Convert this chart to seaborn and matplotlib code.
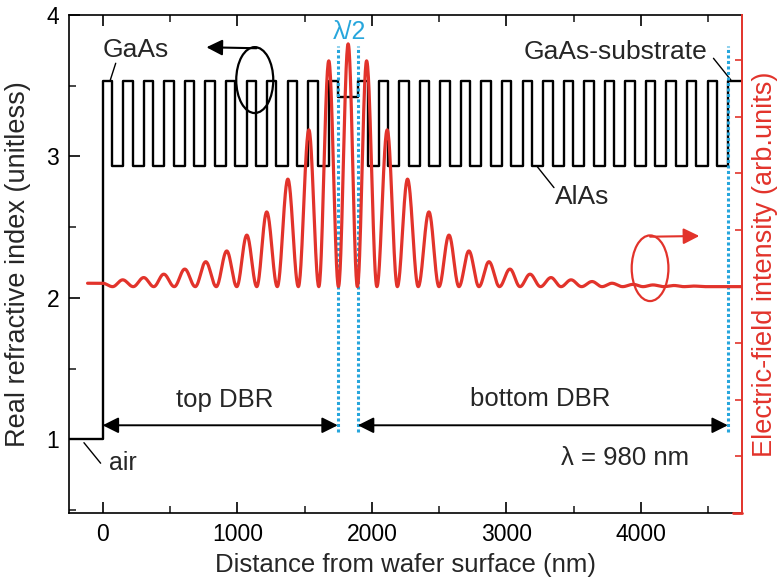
import numpy as np
import pandas as pd
import matplotlib
matplotlib.use("Agg")
import matplotlib.pyplot as plt
import seaborn as sns
from matplotlib.patches import Ellipse
from matplotlib.ticker import MultipleLocator

# ---------------- data ----------------
# refractive indices of the layers
n_air = 1.0
n_gaas = 3.536
n_alas = 2.935
n_cavity = 3.42
# layer thicknesses (nm)
d_gaas = 69.6
d_alas = 83.1
d_cavity = 149.0
top_pairs = 11        # GaAs/AlAs pairs above the cavity (+ one closing GaAs)
bottom_pairs = 18     # GaAs/AlAs pairs below the cavity

# electric-field intensity peaks (position in nm, intensity in arb. units)
peak_x = [149, 305, 454, 610, 766, 922, 1071, 1219, 1376, 1532, 1680, 1824,
          1961, 2114, 2265, 2424, 2573, 2721, 2870, 3026, 3175, 3331, 3480,
          3636, 3784, 3941, 4089, 4245, 4394]
peak_u = [4.12, 4.16, 4.22, 4.31, 4.44, 4.63, 4.91, 5.32, 5.90, 6.77, 7.99, 8.29,
          7.99, 6.77, 5.90, 5.32, 4.91, 4.63, 4.44, 4.31, 4.22, 4.16, 4.12,
          4.09, 4.06, 4.04, 4.03, 4.02, 4.01]
field_min = 4.0        # level of the field minima
field_air = 4.06       # field level in air
field_start = -112     # start of the field curve (nm)
field_first_min = 74   # first minimum inside the DBR (nm)

# marker lines (nm)
dbr_top_end = 1747
dbr_bottom_start = 1896
substrate_start = 4645

x_min, x_max = -250, 4750
RED = "#e2332b"
BLUE = "#27a6dc"

# ---------------- build step profile ----------------
bounds = [x_min, 0.0]
levels = [n_air]
pos = 0.0
for i in range(top_pairs):
    for d, n in ((d_gaas, n_gaas), (d_alas, n_alas)):
        levels.append(n); pos += d; bounds.append(pos)
levels.append(n_gaas); pos += d_gaas; bounds.append(pos)
levels.append(n_cavity); pos += d_cavity; bounds.append(pos)
for i in range(bottom_pairs):
    for d, n in ((d_gaas, n_gaas), (d_alas, n_alas)):
        levels.append(n); pos += d; bounds.append(pos)
levels.append(n_gaas); bounds.append(x_max)
levels.append(n_gaas)
profile = pd.DataFrame({"x": bounds, "n": levels})

# ---------------- build field curve from extrema ----------------
ext_x = [field_start, 0.0, field_first_min]
ext_u = [field_air, field_air, field_min]
for i, (px, pu) in enumerate(zip(peak_x, peak_u)):
    ext_x.append(px); ext_u.append(pu)
    if i + 1 < len(peak_x):
        ext_x.append(0.5 * (px + peak_x[i + 1])); ext_u.append(field_min)
ext_x.append(peak_x[-1] + 75); ext_u.append(field_min)
ext_x.append(x_max); ext_u.append(field_min)

fx, fu = [], []
for i in range(len(ext_x) - 1):
    x0, x1, u0, u1 = ext_x[i], ext_x[i + 1], ext_u[i], ext_u[i + 1]
    t = np.linspace(0, 1, 30)
    s = 0.5 - 0.5 * np.cos(np.pi * t)
    fx.extend(x0 + (x1 - x0) * t)
    fu.extend(u0 + (u1 - u0) * s)
field = pd.DataFrame({"x": fx, "u": fu})

# ---------------- plotting ----------------
sns.set_theme(style="ticks")
plt.rcParams["font.family"] = ["Liberation Sans", "DejaVu Sans"]

fig = plt.figure(figsize=(7.83, 5.82), dpi=100)
ax = fig.add_axes([69 / 783, 1 - 513 / 582, (742 - 69) / 783, (513 - 15) / 582])
ax2 = ax.twinx()

sns.lineplot(data=profile, x="x", y="n", ax=ax, color="black", lw=1.7,
             drawstyle="steps-post", estimator=None, sort=False)

for xv in (dbr_top_end, dbr_bottom_start, substrate_start):
    ax.plot([xv, xv], [1.053, 3.78], ls=(0, (1.0, 0.8)), color=BLUE, lw=2.2, zorder=3)

sns.lineplot(data=field, x="x", y="u", ax=ax2, color=RED, lw=2.3,
             estimator=None, sort=False)

ax.set_xlim(x_min, x_max)
ax.set_ylim(0.48, 4.0)
ax2.set_ylim(0, 8.8)

ax.set_xticks([0, 1000, 2000, 3000, 4000])
ax.xaxis.set_minor_locator(MultipleLocator(500))
ax.set_yticks([1, 2, 3, 4])
ax.yaxis.set_minor_locator(MultipleLocator(0.5))
ax.tick_params(axis="both", which="major", direction="in", top=True, right=False,
               length=8, width=1.2, labelsize=16.5, pad=7, colors="black")
ax.tick_params(axis="both", which="minor", direction="in", top=True, right=False,
               length=5, width=1.2)
ax.spines["right"].set_visible(False)
for s in ("left", "bottom", "top"):
    ax.spines[s].set_linewidth(1.2)
    ax.spines[s].set_color("black")

ax2.set_yticks(range(1, 9))
ax2.tick_params(axis="y", which="both", direction="in", length=5, width=1.2,
                color=RED, labelright=False)
for s in ("left", "bottom", "top"):
    ax2.spines[s].set_visible(False)
ax2.spines["right"].set_color(RED)
ax2.spines["right"].set_linewidth(1.4)

ax.set_xlabel("Distance from wafer surface (nm)", fontsize=18.5, labelpad=5)
ax.set_ylabel("Real refractive index (unitless)", fontsize=19.5, labelpad=11)
ax2.set_ylabel("Electric-field intensity (arb.units)", fontsize=19.5,
               color=RED, labelpad=7)

# annotations
ts = 19
ax.text(-2, 3.753, "GaAs", fontsize=ts, ha="left", va="center")
ax.plot([97, 57], [3.659, 3.541], color="black", lw=1.0)
ax.text(3130, 3.741, "GaAs-substrate", fontsize=ts, ha="left", va="center")
ax.plot([4538, 4667], [3.694, 3.541], color="black", lw=1.0)
ax.text(3360, 2.714, "AlAs", fontsize=ts, ha="left", va="center")
ax.plot([3229, 3353], [2.928, 2.780], color="black", lw=1.0)
ax.text(45, 0.834, "air", fontsize=18, ha="left", va="center")
ax.plot([-139, -15], [0.977, 0.832], color="black", lw=1.0)
ax.text(1833, 3.88, "λ/2", fontsize=18, ha="center", va="center", color=BLUE)
ax.text(907, 1.279, "top DBR", fontsize=18.5, ha="center", va="center")
ax.text(3249, 1.286, "bottom DBR", fontsize=18.5, ha="center", va="center")
ax.text(3881, 0.869, "λ = 980 nm", fontsize=18.5, ha="center", va="center")

arrow_kw = dict(arrowstyle="<|-|>", color="black", lw=1.4, mutation_scale=24,
                shrinkA=0, shrinkB=0)
ax.annotate("", xy=(0, 1.10), xytext=(dbr_top_end, 1.10), arrowprops=arrow_kw)
ax.annotate("", xy=(dbr_bottom_start, 1.10), xytext=(substrate_start, 1.10),
            arrowprops=arrow_kw)

# black ellipse + arrow (left axis)
ax.add_patch(Ellipse((1130, 3.54), 275, 0.466, fill=False, ec="black", lw=1.6, zorder=4))
ax.annotate("", xy=(771, 3.772), xytext=(1143, 3.765),
            arrowprops=dict(arrowstyle="-|>", color="black", lw=1.5,
                            mutation_scale=24, shrinkA=0, shrinkB=0))
# red ellipse + arrow (right axis)
ax.add_patch(Ellipse((4067, 2.21), 273, 0.464, fill=False, ec=RED, lw=1.6, zorder=4))
ax.annotate("", xy=(4433, 2.438), xytext=(4067, 2.433),
            arrowprops=dict(arrowstyle="-|>", color=RED, lw=1.5,
                            mutation_scale=24, shrinkA=0, shrinkB=0))
# red end of the bottom spine next to the right axis
ax.plot([4680, x_max], [0.48, 0.48], color=RED, lw=2.0, clip_on=False, zorder=5)

fig.savefig("out.png", dpi=100)
